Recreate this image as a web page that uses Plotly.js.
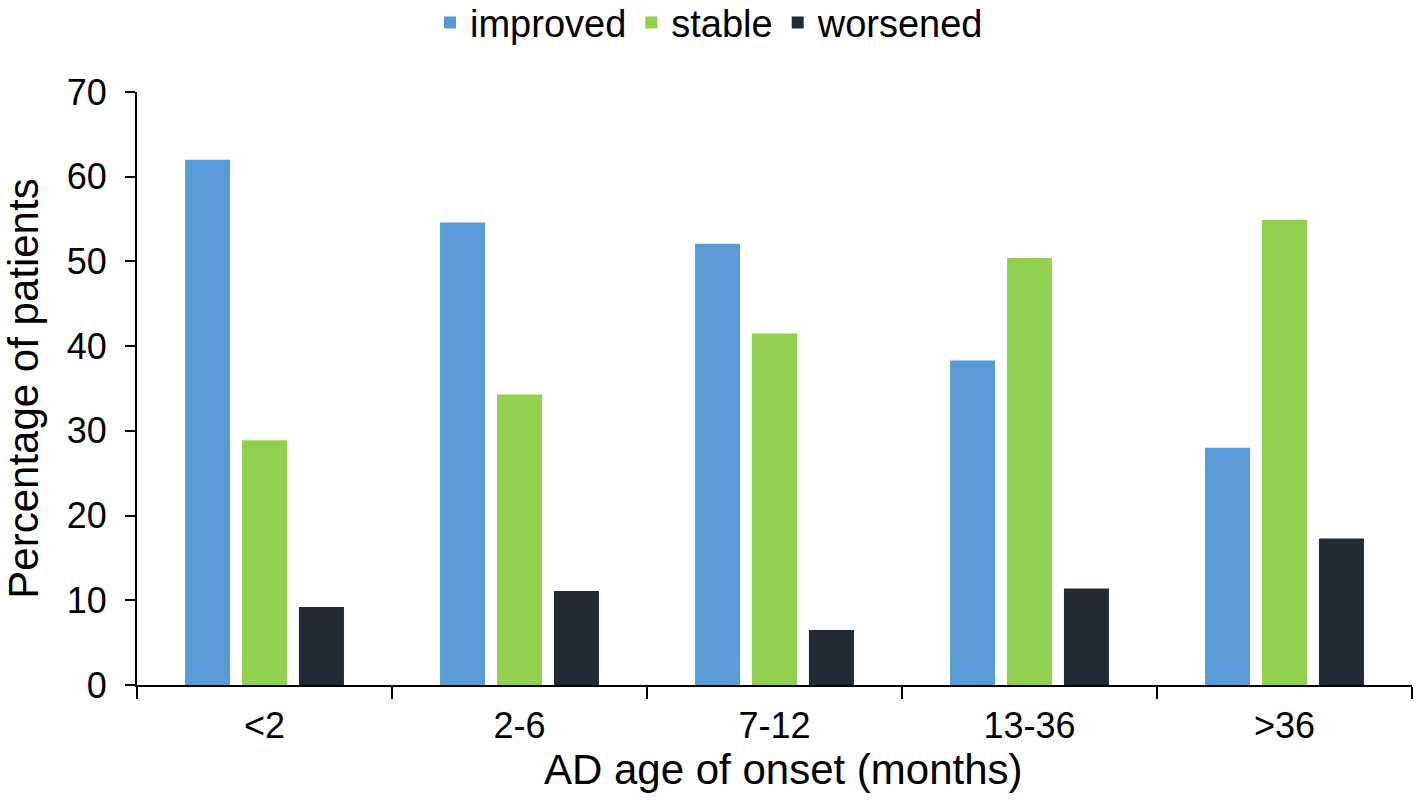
<!DOCTYPE html>
<html>
<head>
<meta charset="utf-8">
<script src="https://cdn.plot.ly/plotly-3.0.1.min.js"></script>
<style>
  html, body { margin: 0; padding: 0; background: #fff; }
  #chart { width: 1419px; height: 811px; }
</style>
</head>
<body>
<div id="chart"></div>
<script>
var CHART = document.getElementById('chart');

var onsetGroups = ['<2', '2-6', '7-12', '13-36', '>36'];
var improved = [62.0, 54.6, 52.1, 38.3, 28.0];
var stable   = [28.9, 34.3, 41.5, 50.4, 54.9];
var worsened = [9.2, 11.1, 6.5, 11.4, 17.3];

var font = 'Liberation Sans, Arial, Helvetica, sans-serif';

var data = [
  {
    x: onsetGroups,
    y: improved,
    name: 'improved',
    type: 'bar',
    hoverinfo: 'none',
    marker: { color: '#5b9bd5' }
  },
  {
    x: onsetGroups,
    y: stable,
    name: 'stable',
    type: 'bar',
    hoverinfo: 'none',
    marker: { color: '#92d050' }
  },
  {
    x: onsetGroups,
    y: worsened,
    name: 'worsened',
    type: 'bar',
    hoverinfo: 'none',
    marker: { color: '#222a35' }
  }
];

var layout = {
  width: 1419,
  height: 811,
  margin: { l: 137, r: 7, t: 92, b: 126 },
  paper_bgcolor: '#fff',
  plot_bgcolor: '#fff',
  font: { family: font, color: '#000', size: 36 },
  barmode: 'group',
  bargap: 0.33,
  bargroupgap: 0.21,
  showlegend: true,
  legend: {
    orientation: 'h',
    xref: 'container',
    yref: 'container',
    x: 0.5,
    xanchor: 'center',
    y: 0.972,
    yanchor: 'middle',
    font: { size: 38, family: font, color: '#000' },
    itemwidth: 30,
    traceorder: 'normal'
  },
  xaxis: {
    type: 'category',
    range: [-0.5, 4.5],
    showgrid: false,
    zeroline: false,
    showline: true,
    linecolor: '#000',
    linewidth: 2,
    ticks: 'outside',
    tickson: 'boundaries',
    ticklen: 12,
    tickwidth: 2,
    tickcolor: '#000',
    tickfont: { size: 36, family: font, color: '#000' },
    ticklabelstandoff: 8
  },
  yaxis: {
    range: [0, 70],
    dtick: 10,
    showgrid: false,
    zeroline: false,
    showline: true,
    linecolor: '#000',
    linewidth: 2,
    ticks: 'outside',
    ticklen: 10,
    tickwidth: 2,
    tickcolor: '#000',
    tickfont: { size: 36, family: font, color: '#000' },
    ticklabelstandoff: 11,
    title: {
      text: 'Percentage of patients',
      font: { size: 42, family: font, color: '#000' },
      standoff: 32
    }
  },
  annotations: [
    {
      // x-axis title, placed by hand so it sits where the reference has it
      text: 'AD age of onset (months)',
      xref: 'paper',
      yref: 'paper',
      x: 0.507,
      y: -0.143,
      xanchor: 'center',
      yanchor: 'middle',
      showarrow: false,
      font: { size: 42, family: font, color: '#000' }
    }
  ]
};

Plotly.newPlot(CHART, data, layout, { displayModeBar: false, staticPlot: true });
</script>
</body>
</html>
